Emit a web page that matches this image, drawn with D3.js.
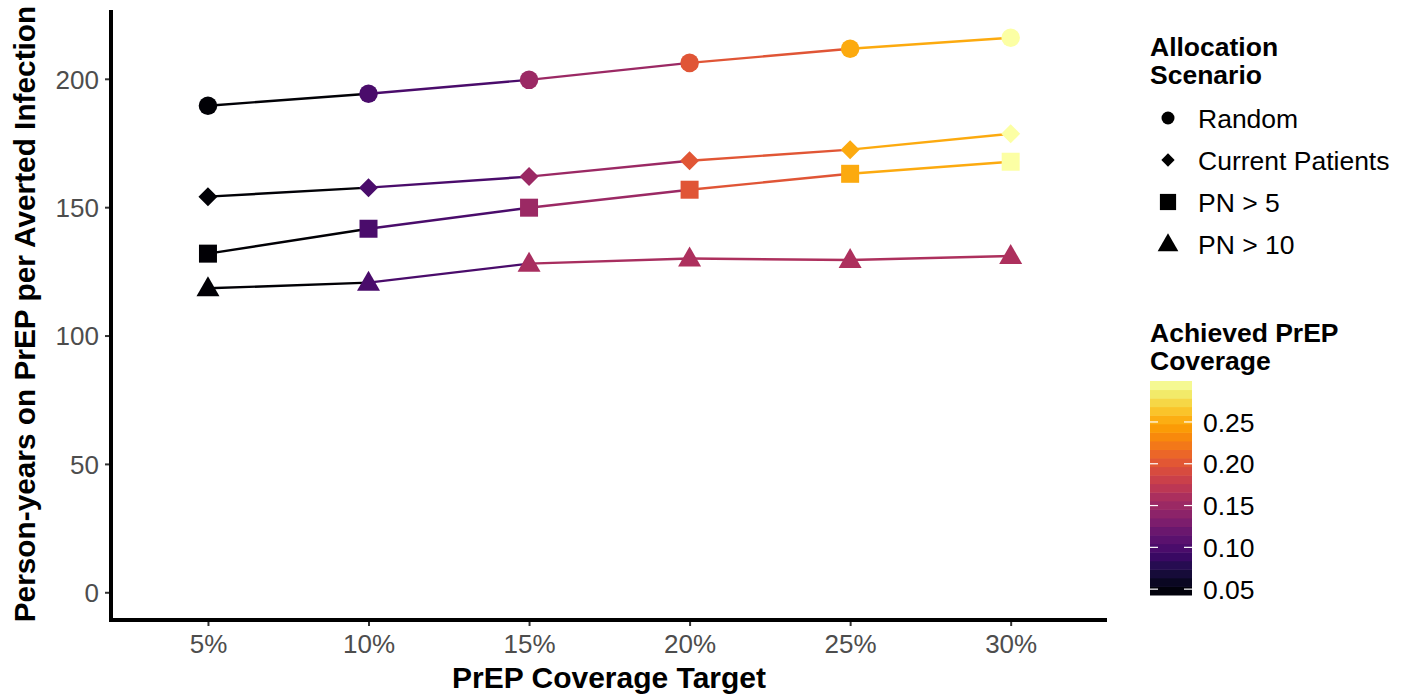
<!DOCTYPE html>
<html>
<head>
<meta charset="utf-8">
<script src="https://cdn.jsdelivr.net/npm/d3@7/dist/d3.min.js"></script>
<style>
  body { margin: 0; background: #fff; }
  svg { font-family: "Liberation Sans", Arial, sans-serif; }
</style>
</head>
<body>
<div id="chart"></div>
<script>
// Données
const targets = [5, 10, 15, 20, 25, 30];
const scenarios = ["Random", "Current Patients", "PN > 5", "PN > 10"];
const shapes = ["circle", "diamond", "square", "triangle"];

const pyRandom = [189.5, 194.2, 199.6, 206.2, 211.7, 216.0];
const pyCurrent = [154.1, 157.6, 161.9, 168.1, 172.4, 178.6];
const pyPN5 = [131.9, 141.6, 149.8, 156.8, 163.0, 167.7];
const pyPN10 = [118.4, 120.6, 128.0, 130.0, 129.4, 131.0];

const covRandom = [0.045, 0.099, 0.150, 0.199, 0.250, 0.299];
const covCurrent = [0.045, 0.099, 0.150, 0.200, 0.250, 0.299];
const covPN5 = [0.044, 0.099, 0.150, 0.199, 0.250, 0.299];
const covPN10 = [0.044, 0.099, 0.158, 0.161, 0.161, 0.161];

const yTicks = [0, 50, 100, 150, 200];
const cbTicks = [0.05, 0.10, 0.15, 0.20, 0.25];

const series = [
  { name: scenarios[0], shape: shapes[0], py: pyRandom, cov: covRandom },
  { name: scenarios[1], shape: shapes[1], py: pyCurrent, cov: covCurrent },
  { name: scenarios[2], shape: shapes[2], py: pyPN5, cov: covPN5 },
  { name: scenarios[3], shape: shapes[3], py: pyPN10, cov: covPN10 }
];

// Dimensions
const W = 1408, H = 695;
const plot = { left: 111, right: 1107, top: 10, bottom: 620 };

const svg = d3.select("#chart").append("svg")
  .attr("width", W).attr("height", H);

const x = d3.scaleLinear().domain([1.98, 33]).range([plot.left, plot.right]);
const y = d3.scaleLinear().domain([-10.8, 226.8]).range([plot.bottom, plot.top]);
const color = d3.scaleSequential(d3.interpolateInferno).domain([0.043, 0.299]);

// Générateur de formes
function shapePath(shape) {
  if (shape === "circle") return d3.symbol(d3.symbolCircle, 270)();
  if (shape === "diamond") {
    const r = 9.5;
    return `M0,${-r}L${r},0L0,${r}L${-r},0Z`;
  }
  if (shape === "square") { const s = 9; return `M${-s},${-s}H${s}V${s}H${-s}Z`; }
  if (shape === "triangle") {
    const h = 20, w = 23;
    return `M0,${-h * 0.6}L${w / 2},${h * 0.4}L${-w / 2},${h * 0.4}Z`;
  }
}

// --- AXES ---
const gx = svg.append("g").attr("transform", `translate(0,${plot.bottom})`);
gx.call(d3.axisBottom(x).tickValues(targets).tickFormat(d => d + "%").tickSize(6).tickPadding(5));
gx.select(".domain").remove();
gx.selectAll(".tick line").attr("stroke", "#333").attr("stroke-width", 2);
gx.selectAll(".tick text").attr("fill", "#4d4d4d").style("font-size", "26px").attr("dy", "0.85em");

const gy = svg.append("g").attr("transform", `translate(${plot.left},0)`);
gy.call(d3.axisLeft(y).tickValues(yTicks).tickSize(6).tickPadding(6));
gy.select(".domain").remove();
gy.selectAll(".tick line").attr("stroke", "#333").attr("stroke-width", 2);
gy.selectAll(".tick text").attr("fill", "#4d4d4d").style("font-size", "26px").attr("dy", "0.36em");

svg.append("line").attr("x1", plot.left).attr("x2", plot.left)
  .attr("y1", plot.top).attr("y2", plot.bottom + 2)
  .attr("stroke", "#000").attr("stroke-width", 4);
svg.append("line").attr("x1", plot.left - 2).attr("x2", plot.right)
  .attr("y1", plot.bottom).attr("y2", plot.bottom)
  .attr("stroke", "#000").attr("stroke-width", 4);

// --- LIGNES (chaque segment prend la couleur du point de départ) ---
series.forEach(s => {
  for (let i = 0; i < targets.length - 1; i++) {
    svg.append("line")
      .attr("x1", x(targets[i])).attr("y1", y(s.py[i]))
      .attr("x2", x(targets[i + 1])).attr("y2", y(s.py[i + 1]))
      .attr("stroke", color(s.cov[i])).attr("stroke-width", 2.4);
  }
});

// --- POINTS ---
series.forEach(s => {
  targets.forEach((t, i) => {
    svg.append("path")
      .attr("d", shapePath(s.shape))
      .attr("transform", `translate(${x(t)},${y(s.py[i])})`)
      .attr("fill", color(s.cov[i]));
  });
});

// --- TITRES DES AXES ---
svg.append("text")
  .attr("x", (plot.left + plot.right) / 2).attr("y", 688)
  .attr("text-anchor", "middle")
  .style("font-size", "30px").style("font-weight", "bold")
  .text("PrEP Coverage Target");

svg.append("text")
  .attr("transform", `translate(35,314) rotate(-90)`)
  .attr("text-anchor", "middle")
  .style("font-size", "29.8px").style("font-weight", "bold")
  .text("Person-years on PrEP per Averted Infection");

// --- LÉGENDE DES FORMES ---
const lg = svg.append("g");
lg.append("text").attr("x", 1150).attr("y", 56)
  .style("font-size", "26.5px").style("font-weight", "bold").text("Allocation");
lg.append("text").attr("x", 1150).attr("y", 84)
  .style("font-size", "26.5px").style("font-weight", "bold").text("Scenario");

series.forEach((s, i) => {
  const cy = 118 + i * 42;
  const sc = s.shape === "triangle" ? 0.9 : s.shape === "square" ? 0.9 : 0.7;
  lg.append("path").attr("d", shapePath(s.shape))
    .attr("transform", `translate(1168,${cy}) scale(${sc})`)
    .attr("fill", "#000");
  lg.append("text").attr("x", 1198).attr("y", cy).attr("dy", "0.36em")
    .style("font-size", "26.5px").text(s.name);
});

// --- BARRE DE COULEUR ---
svg.append("text").attr("x", 1150).attr("y", 342)
  .style("font-size", "26.5px").style("font-weight", "bold").text("Achieved PrEP");
svg.append("text").attr("x", 1150).attr("y", 370)
  .style("font-size", "26.5px").style("font-weight", "bold").text("Coverage");

const cb = { x: 1150, w: 42, top: 381, bottom: 595 };
const cbScale = d3.scaleLinear().domain(color.domain()).range([cb.bottom, cb.top]);
const nbin = 25;
const binH = (cb.bottom - cb.top) / nbin;
for (let i = 0; i < nbin; i++) {
  const v = color.domain()[0] + (i + 0.5) / nbin * (color.domain()[1] - color.domain()[0]);
  svg.append("rect")
    .attr("x", cb.x).attr("y", cb.bottom - (i + 1) * binH)
    .attr("width", cb.w).attr("height", binH + 0.5)
    .attr("fill", color(v));
}
cbTicks.forEach(t => {
  const ty = cbScale(t);
  svg.append("line").attr("x1", cb.x).attr("x2", cb.x + 8).attr("y1", ty).attr("y2", ty)
    .attr("stroke", "#fff").attr("stroke-width", 1.2);
  svg.append("line").attr("x1", cb.x + cb.w - 8).attr("x2", cb.x + cb.w).attr("y1", ty).attr("y2", ty)
    .attr("stroke", "#fff").attr("stroke-width", 1.2);
  svg.append("text").attr("x", cb.x + cb.w + 11).attr("y", ty).attr("dy", "0.36em")
    .style("font-size", "26.5px").text(t.toFixed(2));
});
</script>
</body>
</html>
